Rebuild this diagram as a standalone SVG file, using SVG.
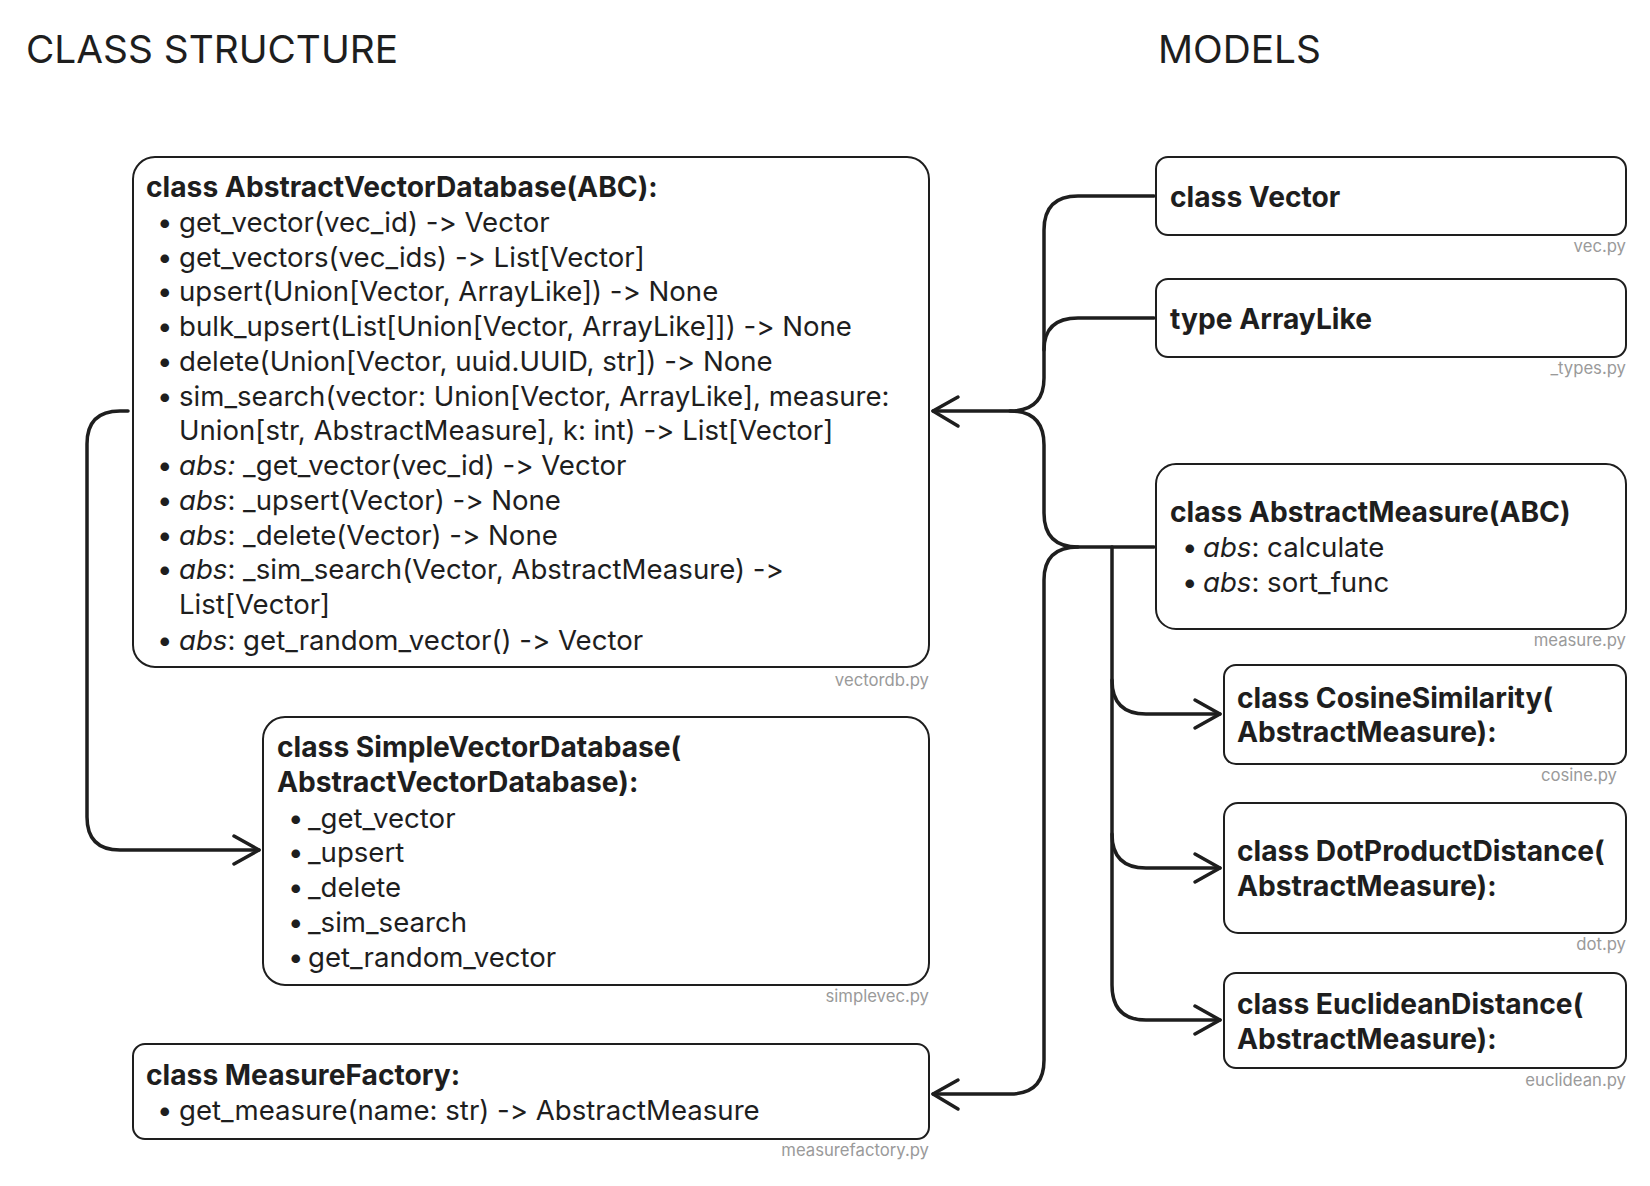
<svg xmlns="http://www.w3.org/2000/svg" width="1650" height="1186" viewBox="0 0 1650 1186">
<style>
text{font-feature-settings:"calt" 0,"liga" 0;font-variant-ligatures:none}
.t{font-family:Inter,"Noto Sans",sans-serif;font-size:27.6px;fill:#1e1e1e}
.b{font-weight:700;font-size:28.2px}
.i{font-style:italic}
.h{font-family:Inter,"Noto Sans",sans-serif;font-size:38.8px;fill:#1e1e1e}
.f{font-family:Inter,"Noto Sans",sans-serif;font-size:16.7px;fill:#9a9a9a;text-anchor:end}
.box{fill:#fff;stroke:#1e1e1e;stroke-width:2}
.c{fill:none;stroke:#1e1e1e;stroke-width:3.5;stroke-linecap:round;stroke-linejoin:round}
</style>
<rect width="1650" height="1186" fill="#fff"/>
<text class="h" x="26" y="63">CLASS STRUCTURE</text>
<text class="h" x="1158" y="63">MODELS</text>

<g id="connectors">
<path class="c" d="M1154 196 L1078 196 Q1044 196 1044 230 L1044 378 Q1044 411 1010 411 L933 411"/>
<path class="c" d="M1154 318 L1078 318 Q1044 318 1044 350"/>
<path class="c" d="M1154 547 L1078 547 Q1044 547 1044 513 L1044 445 Q1044 411 1010 411"/>
<path class="c" d="M958 397 L933 411 L958 426"/>
<path class="c" d="M1078 547 Q1044 547 1044 580 L1044 1060 Q1044 1094 1010 1094 L933 1094"/>
<path class="c" d="M958 1080 L933 1094 L958 1109"/>
<path class="c" d="M1112 547 L1112 985 Q1112 1020 1146 1020 L1220 1020"/>
<path class="c" d="M1112 680 Q1112 714 1146 714 L1220 714"/>
<path class="c" d="M1112 834 Q1112 868 1146 868 L1220 868"/>
<path class="c" d="M1195 700 L1220 714 L1195 728"/>
<path class="c" d="M1195 854 L1220 868 L1195 882"/>
<path class="c" d="M1195 1006 L1220 1020 L1195 1034"/>
<path class="c" d="M128 411 L120 411 Q87 411 87 444 L87 817 Q87 850 120 850 L259 850"/>
<path class="c" d="M234 836 L259 850 L234 864"/>
</g>

<g id="abstract-vector-database">
<rect class="box" x="133" y="157" width="796" height="510" rx="22"/>
<text class="t b" x="146" y="197">class AbstractVectorDatabase(ABC):</text>
<text class="t" x="157" y="232">•</text><text class="t" x="179" y="232">get_vector(vec_id) -&gt; Vector</text>
<text class="t" x="157" y="267">•</text><text class="t" x="179" y="267">get_vectors(vec_ids) -&gt; List[Vector]</text>
<text class="t" x="157" y="301">•</text><text class="t" x="179" y="301">upsert(Union[Vector, ArrayLike]) -&gt; None</text>
<text class="t" x="157" y="336">•</text><text class="t" x="179" y="336">bulk_upsert(List[Union[Vector, ArrayLike]]) -&gt; None</text>
<text class="t" x="157" y="371">•</text><text class="t" x="179" y="371">delete(Union[Vector, uuid.UUID, str]) -&gt; None</text>
<text class="t" x="157" y="406">•</text><text class="t" x="179" y="406">sim_search(vector: Union[Vector, ArrayLike], measure:</text>
<text class="t" x="179" y="440">Union[str, AbstractMeasure], k: int) -&gt; List[Vector]</text>
<text class="t" x="157" y="475">•</text><text class="t" x="179" y="475"><tspan class="i">abs:</tspan> _get_vector(vec_id) -&gt; Vector</text>
<text class="t" x="157" y="510">•</text><text class="t" x="179" y="510"><tspan class="i">abs</tspan>: _upsert(Vector) -&gt; None</text>
<text class="t" x="157" y="545">•</text><text class="t" x="179" y="545"><tspan class="i">abs</tspan>: _delete(Vector) -&gt; None</text>
<text class="t" x="157" y="579">•</text><text class="t" x="179" y="579"><tspan class="i">abs</tspan>: _sim_search(Vector, AbstractMeasure) -&gt;</text>
<text class="t" x="179" y="614">List[Vector]</text>
<text class="t" x="157" y="650">•</text><text class="t" x="179" y="650"><tspan class="i">abs</tspan>: get_random_vector() -&gt; Vector</text>
<text class="f" x="929" y="686">vectordb.py</text>
</g>

<g id="simple-vector-database">
<rect class="box" x="263" y="717" width="666" height="268" rx="22"/>
<text class="t b" x="277" y="757">class SimpleVectorDatabase(</text>
<text class="t b" x="277" y="792">AbstractVectorDatabase):</text>
<text class="t" x="288" y="828">•</text><text class="t" x="308" y="828">_get_vector</text>
<text class="t" x="288" y="862">•</text><text class="t" x="308" y="862">_upsert</text>
<text class="t" x="288" y="897">•</text><text class="t" x="308" y="897">_delete</text>
<text class="t" x="288" y="932">•</text><text class="t" x="308" y="932">_sim_search</text>
<text class="t" x="288" y="967">•</text><text class="t" x="308" y="967">get_random_vector</text>
<text class="f" x="929" y="1002">simplevec.py</text>
</g>

<g id="measure-factory">
<rect class="box" x="133" y="1044" width="796" height="95" rx="12"/>
<text class="t b" x="146" y="1085">class MeasureFactory:</text>
<text class="t" x="157" y="1120">•</text><text class="t" x="179" y="1120">get_measure(name: str) -&gt; AbstractMeasure</text>
<text class="f" x="929" y="1156">measurefactory.py</text>
</g>

<g id="vector">
<rect class="box" x="1156" y="157" width="470" height="78" rx="12"/>
<text class="t b" x="1170" y="207">class Vector</text>
<text class="f" x="1626" y="252">vec.py</text>
</g>

<g id="arraylike">
<rect class="box" x="1156" y="279" width="470" height="78" rx="12"/>
<text class="t b" x="1170" y="329">type ArrayLike</text>
<text class="f" x="1626" y="374">_types.py</text>
</g>

<g id="abstract-measure">
<rect class="box" x="1156" y="464" width="470" height="165" rx="20"/>
<text class="t b" x="1170" y="522">class AbstractMeasure(ABC)</text>
<text class="t" x="1182" y="557">•</text><text class="t" x="1203" y="557"><tspan class="i">abs</tspan>: calculate</text>
<text class="t" x="1182" y="592">•</text><text class="t" x="1203" y="592"><tspan class="i">abs</tspan>: sort_func</text>
<text class="f" x="1626" y="646">measure.py</text>
</g>

<g id="cosine-similarity">
<rect class="box" x="1224" y="665" width="402" height="99" rx="12"/>
<text class="t b" x="1237" y="708">class CosineSimilarity(</text>
<text class="t b" x="1237" y="742">AbstractMeasure):</text>
<text class="f" x="1617" y="781">cosine.py</text>
</g>

<g id="dot-product-distance">
<rect class="box" x="1224" y="803" width="402" height="130" rx="14"/>
<text class="t b" x="1237" y="861">class DotProductDistance(</text>
<text class="t b" x="1237" y="896">AbstractMeasure):</text>
<text class="f" x="1626" y="950">dot.py</text>
</g>

<g id="euclidean-distance">
<rect class="box" x="1224" y="973" width="402" height="95" rx="12"/>
<text class="t b" x="1237" y="1014">class EuclideanDistance(</text>
<text class="t b" x="1237" y="1049">AbstractMeasure):</text>
<text class="f" x="1626" y="1086">euclidean.py</text>
</g>
</svg>
